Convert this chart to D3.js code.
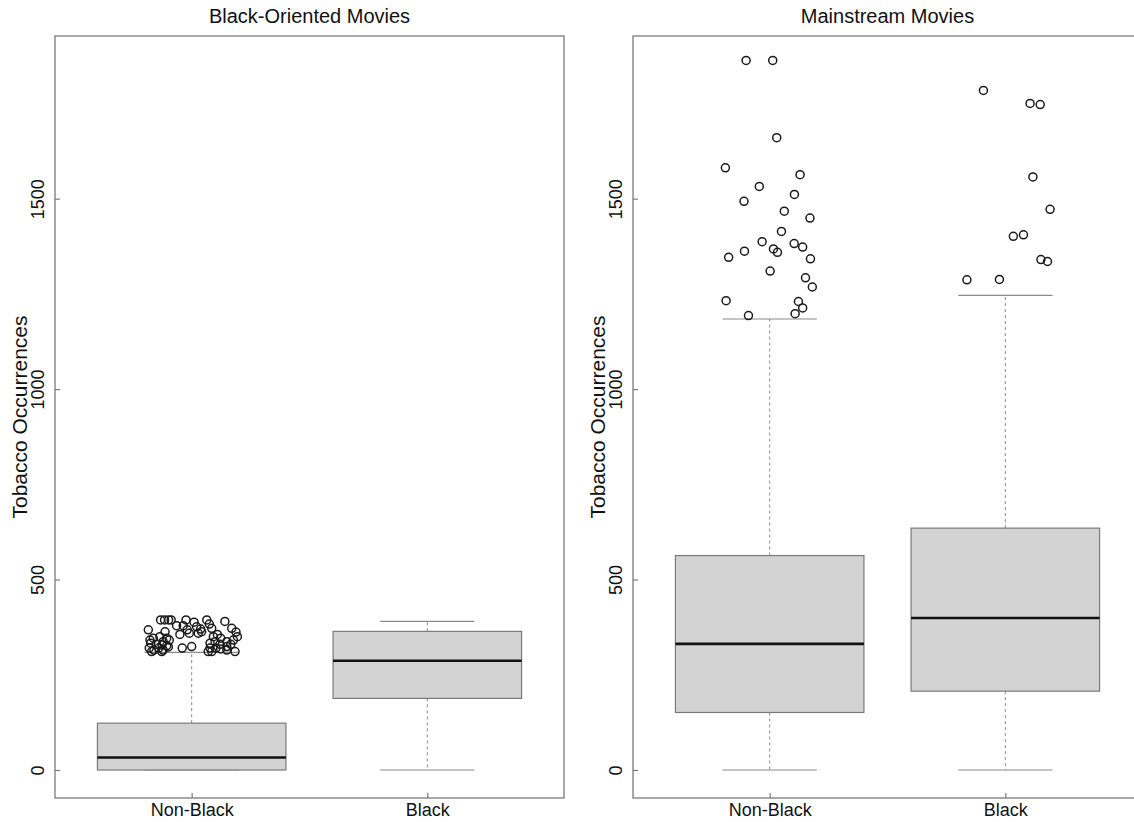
<!DOCTYPE html>
<html>
<head>
<meta charset="utf-8">
<script src="https://cdn.jsdelivr.net/npm/d3@7"></script>
<style>
  html, body { margin: 0; padding: 0; background: #fff; }
  svg { display: block; font-family: "Liberation Sans", Arial, sans-serif; }
</style>
</head>
<body>
<svg id="chart" width="1134" height="822"></svg>
<script>
// ---------------- DATA ----------------
const categories = ["Non-Black", "Black"];
const panelTitles = ["Black-Oriented Movies", "Mainstream Movies"];
const yAxisTitle = "Tobacco Occurrences";
const yTicks = [0, 500, 1000, 1500];
const yLimits = [-73.5, 1927];

// box statistics: [lower whisker, Q1, median, Q3, upper whisker]
const blackOrientedNonBlackStats = [0, 0, 33, 123, 309];
const blackOrientedBlackStats = [0, 188, 287, 364, 390];
const mainstreamNonBlackStats = [0, 151, 331, 563, 1184];
const mainstreamBlackStats = [0, 207, 399, 635, 1246];

// outliers (values) and horizontal jitter (in category units)
const boNonBlackOutliers = [394,394,394,394,394,388,394,390,379,379,368,376,370,383,372,368,363,356,359,359,363,346,350,346,341,350,356,346,372,362,350,341,333,330,328,326,333,337,330,337,330,320,315,320,315,323,320,324,320,311,320,318,315,311,311,311,311,324,341,337];
const boNonBlackJitter = [-0.132,-0.115,-0.098,-0.087,-0.024,0.010,0.064,0.141,-0.064,-0.036,-0.019,0.021,0.038,0.075,0.085,-0.184,-0.113,-0.050,-0.010,0.028,0.042,-0.163,-0.135,-0.106,-0.095,0.092,0.109,0.123,0.170,0.188,0.194,0.177,-0.174,-0.149,-0.126,-0.106,0.078,0.099,0.120,0.149,0.166,-0.180,-0.160,-0.140,-0.121,-0.099,-0.040,0.000,0.078,0.085,0.103,0.123,0.149,0.184,-0.170,-0.127,0.070,0.149,-0.177,-0.121];
const boBlackOutliers = [];
const boBlackJitter = [];

const msNonBlackOutliers = [1863,1863,1660,1581,1563,1532,1511,1493,1467,1449,1414,1387,1382,1373,1368,1362,1359,1346,1342,1310,1292,1268,1232,1230,1213,1198,1193];
const msNonBlackJitter = [-0.100,0.013,0.030,-0.188,0.129,-0.044,0.105,-0.109,0.062,0.171,0.050,-0.032,0.104,0.140,0.016,-0.107,0.033,-0.174,0.173,0.002,0.152,0.181,-0.185,0.122,0.140,0.108,-0.090];
const msBlackOutliers = [1784,1750,1747,1557,1472,1401,1405,1340,1335,1287,1288];
const msBlackJitter = [-0.093,0.105,0.148,0.117,0.190,0.034,0.077,0.151,0.179,-0.163,-0.025];

// ---------------- LAYOUT ----------------
const panels = [
  { title: panelTitles[0], left: 55, right: 564,
    stats: [blackOrientedNonBlackStats, blackOrientedBlackStats],
    outliers: [[boNonBlackOutliers, boNonBlackJitter], [boBlackOutliers, boBlackJitter]] },
  { title: panelTitles[1], left: 633, right: 1142,
    stats: [mainstreamNonBlackStats, mainstreamBlackStats],
    outliers: [[msNonBlackOutliers, msNonBlackJitter], [msBlackOutliers, msBlackJitter]] }
];
const plotTop = 36, plotBottom = 798;
const svg = d3.select("#chart");
svg.append("rect").attr("width", 1134).attr("height", 822).attr("fill", "#fff");

const y = d3.scaleLinear().domain(yLimits).range([plotBottom, plotTop]);
const boxWex = 0.8;

panels.forEach(p => {
  const x = d3.scaleLinear().domain([0.42, 2.58]).range([p.left, p.right]);
  const g = svg.append("g");
  const unit = x(1) - x(0);

  // boxes
  p.stats.forEach((s, i) => {
    const cx = x(i + 1);
    const hw = unit * boxWex / 2;
    const sw = hw / 2;
    g.append("line").attr("x1", cx).attr("x2", cx).attr("y1", y(s[3])).attr("y2", y(s[4]))
      .attr("stroke", "#8a8a8a").attr("stroke-width", 1).attr("stroke-dasharray", "3,3");
    g.append("line").attr("x1", cx).attr("x2", cx).attr("y1", y(s[1])).attr("y2", y(s[0]))
      .attr("stroke", "#8a8a8a").attr("stroke-width", 1).attr("stroke-dasharray", "3,3");
    [s[0], s[4]].forEach(v => {
      g.append("line").attr("x1", cx - sw).attr("x2", cx + sw).attr("y1", y(v)).attr("y2", y(v))
        .attr("stroke", "#8a8a8a").attr("stroke-width", 1.2);
    });
    g.append("rect").attr("x", cx - hw).attr("width", 2 * hw)
      .attr("y", y(s[3])).attr("height", y(s[1]) - y(s[3]))
      .attr("fill", "#d3d3d3").attr("stroke", "#7a7a7a").attr("stroke-width", 1.2);
    g.append("line").attr("x1", cx - hw).attr("x2", cx + hw).attr("y1", y(s[2])).attr("y2", y(s[2]))
      .attr("stroke", "#111").attr("stroke-width", 2.6);
  });

  // outlier points
  p.outliers.forEach((o, i) => {
    const vals = o[0], jit = o[1];
    g.selectAll(null).data(vals).enter().append("circle")
      .attr("cx", (d, k) => x(i + 1 + jit[k]))
      .attr("cy", d => y(d))
      .attr("r", 4)
      .attr("fill", "none").attr("stroke", "#1a1a1a").attr("stroke-width", 1.5);
  });

  // frame
  g.append("rect").attr("x", p.left).attr("y", plotTop)
    .attr("width", p.right - p.left).attr("height", plotBottom - plotTop)
    .attr("fill", "none").attr("stroke", "#7a7a7a").attr("stroke-width", 1.3);

  // y axis
  const yAxis = d3.axisLeft(y).tickValues(yTicks).tickFormat(d3.format("d"))
    .tickSizeInner(-5).tickSizeOuter(0).tickPadding(11);
  const ya = g.append("g").attr("transform", `translate(${p.left},0)`).call(yAxis);
  ya.select(".domain").remove();
  ya.selectAll(".tick line").attr("stroke", "#7a7a7a").attr("stroke-width", 1.2);
  ya.selectAll(".tick text")
    .attr("x", null).attr("dy", null)
    .attr("transform", `translate(-11,0) rotate(-90)`)
    .attr("text-anchor", "middle")
    .style("font-size", "18px").style("font-family", "Liberation Sans, Arial, sans-serif")
    .attr("fill", "#111");

  // x axis
  const xAxis = d3.axisBottom(x).tickValues([1, 2]).tickFormat(d => categories[d - 1])
    .tickSizeInner(-5).tickSizeOuter(0).tickPadding(13);
  const xa = g.append("g").attr("transform", `translate(0,${plotBottom})`).call(xAxis);
  xa.select(".domain").remove();
  xa.selectAll(".tick line").attr("stroke", "#7a7a7a").attr("stroke-width", 1.2);
  xa.selectAll(".tick text")
    .attr("y", 18).attr("dy", null)
    .style("font-size", "18px").style("font-family", "Liberation Sans, Arial, sans-serif")
    .attr("fill", "#111");

  // y axis title
  g.append("text")
    .attr("transform", `translate(${p.left - 28},${(plotTop + plotBottom) / 2}) rotate(-90)`)
    .attr("text-anchor", "middle")
    .style("font-size", "21px").attr("fill", "#111")
    .text(yAxisTitle);

  // panel title
  g.append("text")
    .attr("x", (p.left + p.right) / 2).attr("y", 23)
    .attr("text-anchor", "middle")
    .style("font-size", "20px").attr("fill", "#111")
    .text(p.title);
});
</script>
</body>
</html>
